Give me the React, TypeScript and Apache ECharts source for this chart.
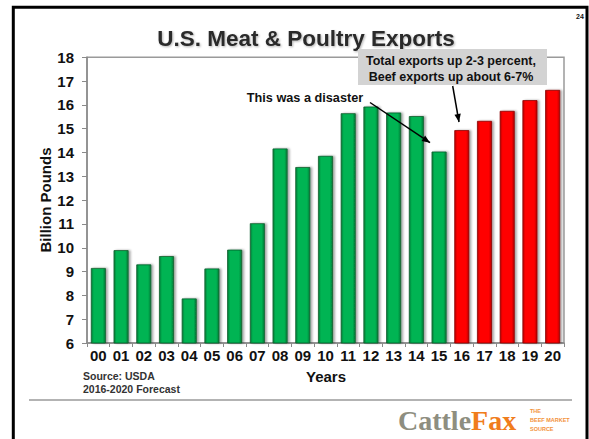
import React, { useEffect, useRef } from "react";
import * as echarts from "echarts";

const categories = ["00","01","02","03","04","05","06","07","08","09","10","11","12","13","14","15","16","17","18","19","20"];
const actualValues = [9.15, 9.9, 9.3, 9.65, 7.87, 9.13, 9.92, 11.03, 14.17, 13.39, 13.86, 15.65, 15.93, 15.68, 15.53, 14.04];
const forecastValues = [14.94, 15.33, 15.75, 16.2, 16.63];
const yTicks = { min: 6, max: 18, interval: 1 };

const FONT = "'Liberation Sans', Arial, sans-serif";

function arrowHead(x1: number, y1: number, x2: number, y2: number, len = 8, half = 3.2) {
  const dx = x2 - x1, dy = y2 - y1;
  const L = Math.sqrt(dx * dx + dy * dy);
  const ux = dx / L, uy = dy / L;
  const bx = x2 - ux * len, by = y2 - uy * len;
  const nx = -uy * half, ny = ux * half;
  return [[x2, y2], [bx + nx, by + ny], [bx - nx, by - ny]];
}

function barGradient(edge: string, mid: string) {
  return new echarts.graphic.LinearGradient(0, 0, 1, 0, [
    { offset: 0, color: edge },
    { offset: 0.18, color: mid },
    { offset: 0.8, color: mid },
    { offset: 1, color: edge },
  ]);
}

export default function App() {
  const ref = useRef<HTMLDivElement>(null);
  useEffect(() => {
    if (!ref.current) return;
    const chart = echarts.init(ref.current, null, { renderer: "svg" });
    const data = [
      ...actualValues.map((v) => ({ value: v, itemStyle: { color: barGradient("#0a7a38", "#00b452"), borderColor: "#0b5e2c" } })),
      ...forecastValues.map((v) => ({ value: v, itemStyle: { color: barGradient("#b80000", "#ff0000"), borderColor: "#8a0000" } })),
    ];
    const a1 = [452.7, 86, 459, 122];
    const a2 = [370, 102.5, 430, 142.7];
    chart.setOption({
      animation: false,
      backgroundColor: "#ffffff",
      grid: { left: 87, right: 25, top: 57.3, bottom: 96, show: true, borderColor: "#9a9a9a", borderWidth: 1.5, backgroundColor: "transparent" },
      xAxis: {
        type: "category",
        data: categories,
        axisLine: { lineStyle: { color: "#8a8a8a", width: 1.5 } },
        axisTick: { show: true, length: 4, lineStyle: { color: "#8a8a8a" } },
        axisLabel: { interval: 0, margin: 5, fontSize: 15, fontWeight: "bold", color: "#111", fontFamily: FONT },
      },
      yAxis: {
        type: "value",
        min: yTicks.min,
        max: yTicks.max,
        interval: yTicks.interval,
        axisLine: { show: true, lineStyle: { color: "#8a8a8a", width: 1.5 } },
        axisTick: { show: true, length: 5, lineStyle: { color: "#8a8a8a" } },
        axisLabel: { margin: 13, fontSize: 15, fontWeight: "bold", color: "#111", fontFamily: FONT },
        splitLine: { lineStyle: { color: "#8c8c8c", width: 1.6, shadowColor: "rgba(0,0,0,0.25)", shadowBlur: 2, shadowOffsetY: 1 } },
      },
      series: [
        {
          type: "bar",
          data,
          barCategoryGap: "34%",
          itemStyle: { borderWidth: 0.8, shadowColor: "rgba(0,0,0,0.35)", shadowBlur: 2, shadowOffsetX: 2 },
        },
      ],
      graphic: [
        { type: "rect", shape: { x: 13.3, y: 7.3, width: 573.7, height: 460 }, style: { fill: "none", stroke: "#000", lineWidth: 3 }, z: 100 },
        { type: "text", x: 580, y: 16, style: { text: "24", fontSize: 7, fontWeight: "bold", fill: "#111", fontFamily: FONT, align: "center", verticalAlign: "middle" } },
        { type: "text", x: 306, y: 38, style: { text: "U.S. Meat & Poultry Exports", fontSize: 22.5, fontWeight: "bold", fill: "#2a2a2a", fontFamily: FONT, align: "center", verticalAlign: "middle", textShadowColor: "rgba(0,0,0,0.3)", textShadowBlur: 2, textShadowOffsetX: 1, textShadowOffsetY: 1 } },
        { type: "rect", shape: { x: 358, y: 49, width: 189, height: 36 }, style: { fill: "#d3d3d3" }, z: 50 },
        { type: "text", x: 451, y: 61, z: 51, style: { text: "Total exports up 2-3 percent,", fontSize: 12.5, fontWeight: "bold", fill: "#111", fontFamily: FONT, align: "center", verticalAlign: "middle" } },
        { type: "text", x: 451, y: 76.5, z: 51, style: { text: "Beef exports up about 6-7%", fontSize: 12.5, fontWeight: "bold", fill: "#111", fontFamily: FONT, align: "center", verticalAlign: "middle" } },
        { type: "line", z: 51, shape: { x1: a1[0], y1: a1[1], x2: a1[2], y2: a1[3] }, style: { stroke: "#000", lineWidth: 1.5 } },
        { type: "polygon", z: 51, shape: { points: arrowHead(a1[0], a1[1], a1[2], a1[3]) }, style: { fill: "#000" } },
        { type: "text", x: 305, y: 97.5, z: 51, style: { text: "This was a disaster", fontSize: 12.7, fontWeight: "bold", fill: "#111", fontFamily: FONT, align: "center", verticalAlign: "middle" } },
        { type: "line", z: 51, shape: { x1: a2[0], y1: a2[1], x2: a2[2], y2: a2[3] }, style: { stroke: "#000", lineWidth: 1.5 } },
        { type: "polygon", z: 51, shape: { points: arrowHead(a2[0], a2[1], a2[2], a2[3]) }, style: { fill: "#000" } },
        { type: "text", x: 45, y: 200, rotation: Math.PI / 2, style: { text: "Billion Pounds", fontSize: 15, fontWeight: "bold", fill: "#111", fontFamily: FONT, align: "center", verticalAlign: "middle" } },
        { type: "text", x: 326, y: 376.5, style: { text: "Years", fontSize: 15, fontWeight: "bold", fill: "#111", fontFamily: FONT, align: "center", verticalAlign: "middle" } },
        { type: "text", x: 83, y: 376, style: { text: "Source: USDA", fontSize: 10.5, fontWeight: "bold", fill: "#333", fontFamily: FONT, align: "left", verticalAlign: "middle" } },
        { type: "text", x: 83, y: 389.3, style: { text: "2016-2020 Forecast", fontSize: 10.5, fontWeight: "bold", fill: "#333", fontFamily: FONT, align: "left", verticalAlign: "middle" } },
        { type: "line", shape: { x1: 29, y1: 400, x2: 572, y2: 400 }, style: { stroke: "#9a9a9a", lineWidth: 1.5 } },
        { type: "text", x: 398, y: 420, style: { text: "{a|Cattle}{b|Fax}", fontSize: 28, fontWeight: "bold", fontFamily: "'Liberation Serif', 'Times New Roman', serif", align: "left", verticalAlign: "middle", rich: { a: { fill: "#8e8e80", fontSize: 28, fontWeight: "bold", fontFamily: "'Liberation Serif', serif" }, b: { fill: "#f07d1c", fontSize: 28, fontWeight: "bold", fontFamily: "'Liberation Serif', serif" } } } },
        { type: "text", x: 530, y: 410.7, style: { text: "THE", fontSize: 5.5, fontWeight: "bold", fill: "#f3913a", fontFamily: FONT, align: "left", verticalAlign: "middle" } },
        { type: "text", x: 530, y: 420, style: { text: "BEEF MARKET", fontSize: 5.5, fontWeight: "bold", fill: "#f3913a", fontFamily: FONT, align: "left", verticalAlign: "middle" } },
        { type: "text", x: 530, y: 429, style: { text: "SOURCE", fontSize: 5.5, fontWeight: "bold", fill: "#f3913a", fontFamily: FONT, align: "left", verticalAlign: "middle" } },
      ],
    });
    return () => chart.dispose();
  }, []);
  return <div ref={ref} style={{ position: "absolute", left: 0, top: 0, width: 589, height: 439, background: "#fff" }} />;
}
